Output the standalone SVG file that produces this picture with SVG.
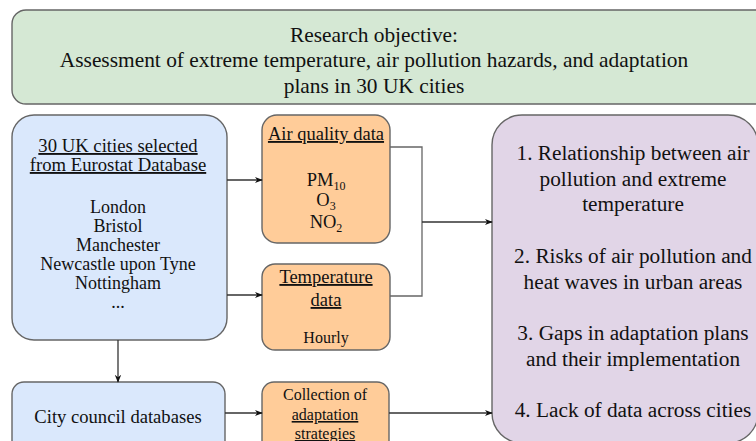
<svg xmlns="http://www.w3.org/2000/svg" width="756" height="441" viewBox="0 0 756 441" font-family="'Liberation Serif', Tinos, 'Times New Roman', 'DejaVu Serif', serif">
<style>
text{font-family:'Liberation Serif', Tinos, 'Times New Roman', 'DejaVu Serif', serif;fill:#111;text-anchor:middle}
.box{stroke:#666;stroke-width:1.4}
.u{text-decoration:underline}
.c{fill:none;stroke:#333;stroke-width:1.3}
.g{fill:none;stroke:#666;stroke-width:1.3}
</style>
<defs>
<marker id="ah" viewBox="0 0 10 10" refX="9" refY="5" markerWidth="8" markerHeight="8" markerUnits="userSpaceOnUse" orient="auto">
<path d="M0,1 L10,5 L0,9 L3,5 Z" fill="#111"/>
</marker>
</defs>
<g id="objective">
<rect class="box" x="12" y="10" width="760" height="94" rx="14" fill="#d5e8d4"/>
<text x="374" y="42" font-size="21.4">Research objective:</text>
<text x="374" y="67" font-size="21.4">Assessment of extreme temperature, air pollution hazards, and adaptation</text>
<text x="374" y="93" font-size="21.4">plans in 30 UK cities</text>
</g>
<g id="cities">
<rect class="box" x="12" y="115" width="215" height="225" rx="22" fill="#dae8fc"/>
<text x="118" y="152" font-size="18.7" class="u">30 UK cities selected</text>
<text x="118" y="171" font-size="18.7" class="u">from Eurostat Database</text>
<text x="118" y="213" font-size="18">London</text>
<text x="118" y="232" font-size="18">Bristol</text>
<text x="118" y="251" font-size="18">Manchester</text>
<text x="118" y="270" font-size="18">Newcastle upon Tyne</text>
<text x="118" y="289" font-size="18">Nottingham</text>
<text x="118" y="308" font-size="18">...</text>
</g>
<g id="airquality">
<rect class="box" x="262" y="115" width="128" height="128" rx="15" fill="#ffcc99"/>
<text x="326" y="140" font-size="18.5" class="u">Air quality data</text>
<text x="326" y="186" font-size="18.5">PM<tspan font-size="12" dy="4">10</tspan></text>
<text x="326" y="206" font-size="18.5">O<tspan font-size="12" dy="4">3</tspan></text>
<text x="326" y="228" font-size="18.5">NO<tspan font-size="12" dy="4">2</tspan></text>
</g>
<g id="temperature">
<rect class="box" x="262" y="264" width="128" height="86" rx="13" fill="#ffcc99"/>
<text x="326" y="283" font-size="18.5" class="u">Temperature</text>
<text x="326" y="306" font-size="18.5" class="u">data</text>
<text x="326" y="343" font-size="16">Hourly</text>
</g>
<g id="council">
<rect class="box" x="12" y="382" width="213" height="72" rx="12" fill="#dae8fc"/>
<text x="118" y="423" font-size="18.6">City council databases</text>
</g>
<g id="collection">
<rect class="box" x="262" y="382" width="127" height="72" rx="12" fill="#ffcc99"/>
<text x="325" y="400" font-size="16">Collection of</text>
<text x="325" y="420" font-size="16" class="u">adaptation </text>
<text x="325" y="439" font-size="16" class="u">strategies</text>
</g>
<g id="findings">
<rect class="box" x="492" y="115" width="266" height="328" rx="30" fill="#e1d5e7"/>
<text x="633" y="160" font-size="21.3">1. Relationship between air</text>
<text x="633" y="185.7" font-size="21.3">pollution and extreme</text>
<text x="633" y="211.4" font-size="21.3">temperature</text>
<text x="633" y="262.8" font-size="21.3">2. Risks of air pollution and</text>
<text x="633" y="288.5" font-size="21.3">heat waves in urban areas</text>
<text x="633" y="339.9" font-size="21.3">3. Gaps in adaptation plans</text>
<text x="633" y="365.6" font-size="21.3">and their implementation</text>
<text x="633" y="417" font-size="21.3">4. Lack of data across cities</text>
</g>
<g id="connectors">
<line class="c" x1="227" y1="180" x2="262" y2="180" marker-end="url(#ah)"/>
<line class="c" x1="227" y1="295" x2="262" y2="295" marker-end="url(#ah)"/>
<line class="c" x1="118" y1="340" x2="118" y2="382" marker-end="url(#ah)"/>
<polyline class="g" points="390,147 422,147 422,296 390,296"/>
<line class="c" x1="422" y1="222" x2="492" y2="222" marker-end="url(#ah)"/>
<line class="c" x1="225" y1="413" x2="262" y2="413" marker-end="url(#ah)"/>
<line class="c" x1="389" y1="413" x2="492" y2="413" marker-end="url(#ah)"/>
</g>
</svg>
